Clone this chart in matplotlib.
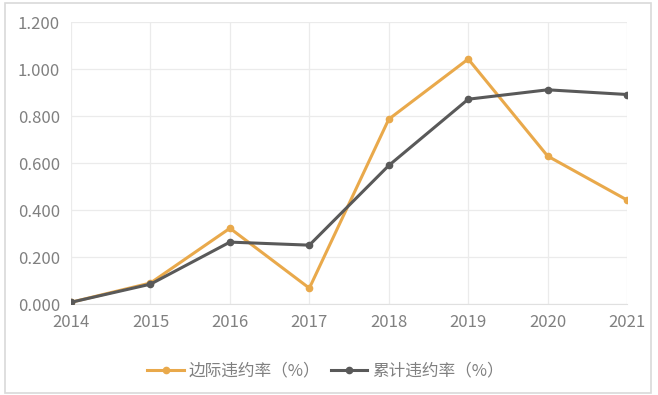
import matplotlib
matplotlib.use("Agg")
import matplotlib.pyplot as plt
from matplotlib.patches import Rectangle

plt.rcParams['font.family'] = ['Noto Sans CJK SC', 'DejaVu Sans']

years = [2014, 2015, 2016, 2017, 2018, 2019, 2020, 2021]
marginal = [0.008, 0.090, 0.323, 0.068, 0.787, 1.043, 0.630, 0.443]
cumulative = [0.008, 0.085, 0.264, 0.251, 0.590, 0.872, 0.912, 0.892]
yticks = [0.0, 0.2, 0.4, 0.6, 0.8, 1.0, 1.2]

ORANGE = "#E9A94B"
GRAY = "#595959"
TEXT = "#808080"

fig = plt.figure(figsize=(6.58, 3.95), dpi=100)
ax = fig.add_axes([0.108, 0.230, 0.845, 0.714])

ax.plot(years, marginal, color=ORANGE, lw=2.2, marker="o", ms=4.5,
        label="边际违约率（%）", zorder=3)
ax.plot(years, cumulative, color=GRAY, lw=2.2, marker="o", ms=4.5,
        label="累计违约率（%）", zorder=4)

ax.set_xlim(years[0], years[-1])
ax.set_ylim(0, 1.2)
ax.set_yticks(yticks)
ax.set_yticklabels([f"{v:.3f}" for v in yticks])
ax.set_xticks(years)
ax.set_xticklabels([str(y) for y in years])

ax.grid(True, color="#EBEBEB", lw=0.9)
ax.set_axisbelow(True)
for side in ["left", "right", "top"]:
    ax.spines[side].set_visible(False)
ax.spines["bottom"].set_color("#E0E0E0")
ax.tick_params(length=0, labelsize=12, colors=TEXT, pad=8)
ax.tick_params(axis="x", pad=7)

leg = ax.legend(loc="upper center", bbox_to_anchor=(0.458, -0.155), ncol=2,
                frameon=False, fontsize=12, handlelength=2.2,
                columnspacing=0.6, handletextpad=0.3)
for t in leg.get_texts():
    t.set_color(TEXT)

fig.patches.append(Rectangle((0.008, 0.006), 0.982, 0.987, transform=fig.transFigure,
                             fill=False, edgecolor="#D9D9D9", lw=1.2))

fig.savefig("out.png", dpi=100)
